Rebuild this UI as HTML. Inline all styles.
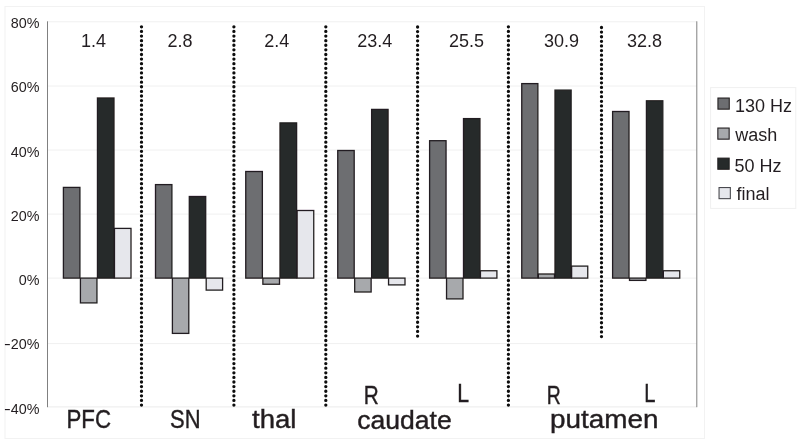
<!DOCTYPE html>
<html><head><meta charset="utf-8"><title>chart</title>
<style>
html,body{margin:0;padding:0;background:#fff;}
body{width:800px;height:442px;overflow:hidden;position:relative;}
svg{position:absolute;left:0;top:0;display:block;}
text{font-family:"Liberation Sans",sans-serif;fill:#231f20;}
.yl{font-size:15.5px;text-anchor:end;}
.num{font-size:18px;text-anchor:middle;}
.cat{font-size:26.5px;stroke:#231f20;stroke-width:0.42px;}
.leg{font-size:18px;}
</style></head><body>
<svg width="800" height="442" viewBox="0 0 800 442">
<defs><filter id="soft" x="0" y="0" width="800" height="442" filterUnits="userSpaceOnUse"><feGaussianBlur stdDeviation="0.4"/></filter></defs>
<rect x="0" y="0" width="800" height="442" fill="#ffffff"/>
<g filter="url(#soft)">
<rect x="5" y="6.5" width="699.5" height="432" fill="none" stroke="#f2f2f2" stroke-width="1"/>

<line x1="48" y1="21.8" x2="697" y2="21.8" stroke="#f0f0f0" stroke-width="1"/>
<line x1="48" y1="86" x2="697" y2="86" stroke="#f0f0f0" stroke-width="1"/>
<line x1="48" y1="150" x2="697" y2="150" stroke="#f0f0f0" stroke-width="1"/>
<line x1="48" y1="214.1" x2="697" y2="214.1" stroke="#f0f0f0" stroke-width="1"/>
<line x1="48" y1="278.1" x2="697" y2="278.1" stroke="#f0f0f0" stroke-width="1"/>
<line x1="48" y1="343.6" x2="697" y2="343.6" stroke="#f0f0f0" stroke-width="1"/>
<line x1="47" y1="406.9" x2="697" y2="406.9" stroke="#ebebeb" stroke-width="1"/>
<rect x="63.40" y="187.40" width="16.52" height="90.70" fill="#6d6e71" stroke="#231f20" stroke-width="1.3"/>
<rect x="80.42" y="278.10" width="16.52" height="24.80" fill="#a7a9ac" stroke="#231f20" stroke-width="1.3"/>
<rect x="97.45" y="98.00" width="16.53" height="180.10" fill="#262b2b" stroke="#231f20" stroke-width="1.3"/>
<rect x="114.47" y="228.40" width="16.53" height="49.70" fill="#e6e7ec" stroke="#231f20" stroke-width="1.3"/>
<rect x="155.50" y="184.60" width="16.40" height="93.50" fill="#6d6e71" stroke="#231f20" stroke-width="1.3"/>
<rect x="172.40" y="278.10" width="16.40" height="55.30" fill="#a7a9ac" stroke="#231f20" stroke-width="1.3"/>
<rect x="189.30" y="196.50" width="16.40" height="81.60" fill="#262b2b" stroke="#231f20" stroke-width="1.3"/>
<rect x="206.20" y="278.10" width="16.40" height="12.00" fill="#e6e7ec" stroke="#231f20" stroke-width="1.3"/>
<rect x="245.75" y="171.50" width="16.62" height="106.60" fill="#6d6e71" stroke="#231f20" stroke-width="1.3"/>
<rect x="262.88" y="278.10" width="16.62" height="6.15" fill="#a7a9ac" stroke="#231f20" stroke-width="1.3"/>
<rect x="280.00" y="122.90" width="16.62" height="155.20" fill="#262b2b" stroke="#231f20" stroke-width="1.3"/>
<rect x="297.12" y="210.50" width="16.62" height="67.60" fill="#e6e7ec" stroke="#231f20" stroke-width="1.3"/>
<rect x="337.75" y="150.50" width="16.44" height="127.60" fill="#6d6e71" stroke="#231f20" stroke-width="1.3"/>
<rect x="354.69" y="278.10" width="16.44" height="13.90" fill="#a7a9ac" stroke="#231f20" stroke-width="1.3"/>
<rect x="371.62" y="109.40" width="16.44" height="168.70" fill="#262b2b" stroke="#231f20" stroke-width="1.3"/>
<rect x="388.56" y="278.10" width="16.44" height="6.80" fill="#e6e7ec" stroke="#231f20" stroke-width="1.3"/>
<rect x="429.60" y="140.70" width="16.45" height="137.40" fill="#6d6e71" stroke="#231f20" stroke-width="1.3"/>
<rect x="446.55" y="278.10" width="16.45" height="20.80" fill="#a7a9ac" stroke="#231f20" stroke-width="1.3"/>
<rect x="463.50" y="118.60" width="16.45" height="159.50" fill="#262b2b" stroke="#231f20" stroke-width="1.3"/>
<rect x="480.45" y="270.75" width="16.45" height="7.35" fill="#e6e7ec" stroke="#231f20" stroke-width="1.3"/>
<rect x="521.75" y="83.60" width="16.12" height="194.50" fill="#6d6e71" stroke="#231f20" stroke-width="1.3"/>
<rect x="538.38" y="274.00" width="16.12" height="4.10" fill="#a7a9ac" stroke="#231f20" stroke-width="1.3"/>
<rect x="555.00" y="90.10" width="16.12" height="188.00" fill="#262b2b" stroke="#231f20" stroke-width="1.3"/>
<rect x="571.62" y="266.10" width="16.12" height="12.00" fill="#e6e7ec" stroke="#231f20" stroke-width="1.3"/>
<rect x="612.60" y="111.50" width="16.41" height="166.60" fill="#6d6e71" stroke="#231f20" stroke-width="1.3"/>
<rect x="629.51" y="278.10" width="16.41" height="2.30" fill="#a7a9ac" stroke="#231f20" stroke-width="1.3"/>
<rect x="646.42" y="100.80" width="16.41" height="177.30" fill="#262b2b" stroke="#231f20" stroke-width="1.3"/>
<rect x="663.34" y="270.75" width="16.41" height="7.35" fill="#e6e7ec" stroke="#231f20" stroke-width="1.3"/>
<line x1="47.5" y1="21.3" x2="47.5" y2="407.2" stroke="#808080" stroke-width="1"/>
<line x1="696.8" y1="21.3" x2="696.8" y2="407.2" stroke="#808080" stroke-width="1"/>
<line x1="141.5" y1="26.8" x2="141.5" y2="405.57" stroke="#0d0d0d" stroke-width="3.3" stroke-linecap="round" stroke-dasharray="0 4.613"/>
<line x1="233.9" y1="26.8" x2="233.9" y2="405.57" stroke="#0d0d0d" stroke-width="3.3" stroke-linecap="round" stroke-dasharray="0 4.613"/>
<line x1="325.8" y1="26.8" x2="325.8" y2="405.57" stroke="#0d0d0d" stroke-width="3.3" stroke-linecap="round" stroke-dasharray="0 4.613"/>
<line x1="417.6" y1="27.0" x2="417.6" y2="336.57" stroke="#0d0d0d" stroke-width="3.3" stroke-linecap="round" stroke-dasharray="0 4.613"/>
<line x1="508.4" y1="26.8" x2="508.4" y2="405.57" stroke="#0d0d0d" stroke-width="3.3" stroke-linecap="round" stroke-dasharray="0 4.613"/>
<line x1="601.5" y1="27.5" x2="601.5" y2="337.07" stroke="#0d0d0d" stroke-width="3.3" stroke-linecap="round" stroke-dasharray="0 4.613"/>
<text class="yl" transform="translate(39.4,28.20) scale(0.925,1)">80%</text>
<text class="yl" transform="translate(39.4,92.42) scale(0.925,1)">60%</text>
<text class="yl" transform="translate(39.4,156.64) scale(0.925,1)">40%</text>
<text class="yl" transform="translate(39.4,220.86) scale(0.925,1)">20%</text>
<text class="yl" transform="translate(39.4,285.08) scale(0.925,1)">0%</text>
<text class="yl" transform="translate(39.4,349.30) scale(0.925,1)">20%</text>
<text class="yl" transform="translate(10.9,349.30) scale(1.32,1)">-</text>
<text class="yl" transform="translate(39.4,413.52) scale(0.925,1)">40%</text>
<text class="yl" transform="translate(10.9,413.52) scale(1.32,1)">-</text>
<text class="num" x="93.6" y="46.9">1.4</text>
<text class="num" x="180" y="46.9">2.8</text>
<text class="num" x="276.8" y="46.9">2.4</text>
<text class="num" x="374.8" y="46.9">23.4</text>
<text class="num" x="466.5" y="46.9">25.5</text>
<text class="num" x="561.6" y="46.9">30.9</text>
<text class="num" x="644.5" y="46.9">32.8</text>
<text class="cat" x="66.5" y="428.3" textLength="44.5" lengthAdjust="spacingAndGlyphs">PFC</text>
<text class="cat" x="170" y="428.3" textLength="30.5" lengthAdjust="spacingAndGlyphs">SN</text>
<text class="cat" x="252" y="428.4" textLength="44.5" lengthAdjust="spacingAndGlyphs">thal</text>
<text class="cat" x="357.2" y="428.5" textLength="94.5" lengthAdjust="spacingAndGlyphs">caudate</text>
<text class="cat" x="550" y="428.1" textLength="108.5" lengthAdjust="spacingAndGlyphs">putamen</text>
<text class="cat" x="363.8" y="403.75" textLength="15" lengthAdjust="spacingAndGlyphs">R</text>
<text class="cat" x="457.2" y="402" textLength="11.8" lengthAdjust="spacingAndGlyphs">L</text>
<text class="cat" x="546.8" y="404.2" textLength="14" lengthAdjust="spacingAndGlyphs">R</text>
<text class="cat" x="644.3" y="402.2" textLength="11.2" lengthAdjust="spacingAndGlyphs">L</text>
<rect x="710.6" y="87.6" width="85.2" height="120.8" fill="#fff" stroke="#f0f0f0" stroke-width="1"/>
<rect x="717.95" y="98.05" width="11.3" height="11.1" fill="#6d6e71" stroke="#231f20" stroke-width="1.1"/>
<text class="leg" x="734.9" y="111.75">130 Hz</text>
<rect x="717.85" y="128.05" width="11.3" height="11.1" fill="#a7a9ac" stroke="#231f20" stroke-width="1.1"/>
<text class="leg" x="735.3" y="141.4">wash</text>
<rect x="717.85" y="158.15" width="11.3" height="11.1" fill="#262b2b" stroke="#231f20" stroke-width="1.1"/>
<text class="leg" x="734.6" y="171.6">50 Hz</text>
<rect x="719.05" y="187.55" width="11.3" height="11.1" fill="#e6e7ec" stroke="#4a4a4f" stroke-width="1.1"/>
<text class="leg" x="736.5" y="200.4">final</text>
</g></svg></body></html>
